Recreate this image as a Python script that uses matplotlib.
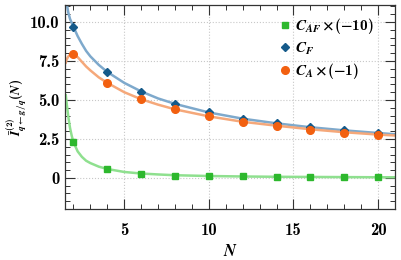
import numpy as np
import matplotlib
matplotlib.use('Agg')
import matplotlib.pyplot as plt
from matplotlib.ticker import MultipleLocator, FixedLocator, FixedFormatter

# data
N_pts = [2, 4, 6, 8, 10, 12, 14, 16, 18, 20]
caf_pts = [2.3, 0.55, 0.25, 0.15, 0.12, 0.09, 0.07, 0.05, 0.05, 0.04]
cf_pts = [9.7, 6.8, 5.5, 4.75, 4.2, 3.8, 3.5, 3.25, 3.05, 2.85]
ca_pts = [7.95, 6.1, 5.05, 4.4, 3.95, 3.6, 3.35, 3.1, 2.9, 2.75]

N_curve = [1.55, 1.6, 1.7, 1.8, 1.9, 2.0, 2.25, 2.5, 2.75, 3, 3.5, 4, 5, 6, 7, 8, 10, 12, 14, 16, 18, 20, 21]
caf_curve = [5.3, 4.8, 3.9, 3.2, 2.7, 2.3, 1.7, 1.35, 1.1, 0.95, 0.72, 0.57, 0.38, 0.28, 0.22, 0.17,
             0.12, 0.09, 0.07, 0.06, 0.05, 0.04, 0.04]
cf_curve = [11.6, 11.2, 10.6, 10.2, 9.95, 9.7, 9.1, 8.6, 8.15, 7.8, 7.25, 6.8, 6.1, 5.55, 5.1, 4.75,
            4.2, 3.8, 3.5, 3.25, 3.05, 2.88, 2.8]
ca_curve = [7.4, 7.6, 7.8, 7.9, 7.95, 7.95, 7.75, 7.45, 7.15, 6.9, 6.45, 6.1, 5.5, 5.05, 4.7, 4.4,
            3.95, 3.6, 3.35, 3.12, 2.93, 2.78, 2.72]

yticks = [0, 2.5, 5.0, 7.5, 10.0]
ytick_labels = ['0', '2.5', '5.0', '7.5', '10.0']
xticks = [5, 10, 15, 20]

plt.rcParams['mathtext.fontset'] = 'custom'
plt.rcParams['mathtext.rm'] = 'cmb10'
plt.rcParams['mathtext.bf'] = 'cmb10'
plt.rcParams['mathtext.it'] = 'STIXGeneral:italic:bold'
plt.rcParams['mathtext.bfit'] = 'STIXGeneral:italic:bold'
plt.rcParams['mathtext.fallback'] = 'stix'
plt.rcParams['font.family'] = 'cmb10'
plt.rcParams['axes.unicode_minus'] = False

fig = plt.figure(figsize=(4.01, 2.6), dpi=100)
ax = fig.add_axes([0.162, 0.196, 0.823, 0.785])

green_l, green_m = '#8fe08f', '#2db82d'
blue_l, blue_m = '#7ea9cc', '#155a8a'
orange_l, orange_m = '#f5a87a', '#f26010'

ax.plot(N_curve, caf_curve, color=green_l, lw=1.8, zorder=2)
ax.plot(N_curve, cf_curve, color=blue_l, lw=1.8, zorder=2)
ax.plot(N_curve, ca_curve, color=orange_l, lw=1.8, zorder=2)

ax.plot(N_pts, caf_pts, 's', color=green_m, ms=4.5, ls='none', zorder=3,
        label=r'$\boldsymbol{C_{AF}\times(-10)}$')
ax.plot(N_pts, cf_pts, 'D', color=blue_m, ms=4.5, ls='none', zorder=3,
        label=r'$\boldsymbol{C_{F}}$')
ax.plot(N_pts, ca_pts, 'o', color=orange_m, ms=5.5, ls='none', zorder=3,
        label=r'$\boldsymbol{C_{A}\times(-1)}$')

ax.set_xlim(1.5, 21)
ax.set_ylim(-2.0, 11.1)

ax.xaxis.set_major_locator(FixedLocator(xticks))
ax.xaxis.set_minor_locator(MultipleLocator(1))
ax.yaxis.set_major_locator(FixedLocator(yticks))
ax.yaxis.set_major_formatter(FixedFormatter(ytick_labels))
ax.yaxis.set_minor_locator(MultipleLocator(0.5))
ax.tick_params(which='both', direction='in', top=True, right=True, labelsize=12, color='#333333')
ax.tick_params(which='major', length=7, width=0.8)
ax.tick_params(which='minor', length=3.5, width=0.7)
ax.tick_params(axis='x', which='major', pad=10)
ax.tick_params(axis='y', which='major', pad=4)
ax.grid(True, which='major', ls=':', color='#c8c8c8', lw=0.8)
for s in ax.spines.values():
    s.set_color('#333333')
    s.set_linewidth(0.9)

ax.set_xlabel(r'$\boldsymbol{N}$', fontsize=12)
ax.xaxis.set_label_coords(0.5, -0.165)
ax.set_ylabel(r'$\boldsymbol{\bar{I}^{(2)}_{q\leftarrow g/q}(N)}$', fontsize=9.5)
ax.yaxis.set_label_coords(-0.108, 0.5)

ax.legend(loc='upper right', bbox_to_anchor=(0.955, 0.975), frameon=False, fontsize=11,
          handlelength=0.6, handletextpad=0.4, borderaxespad=0, labelspacing=0.3)

fig.savefig('out.png', dpi=100)
